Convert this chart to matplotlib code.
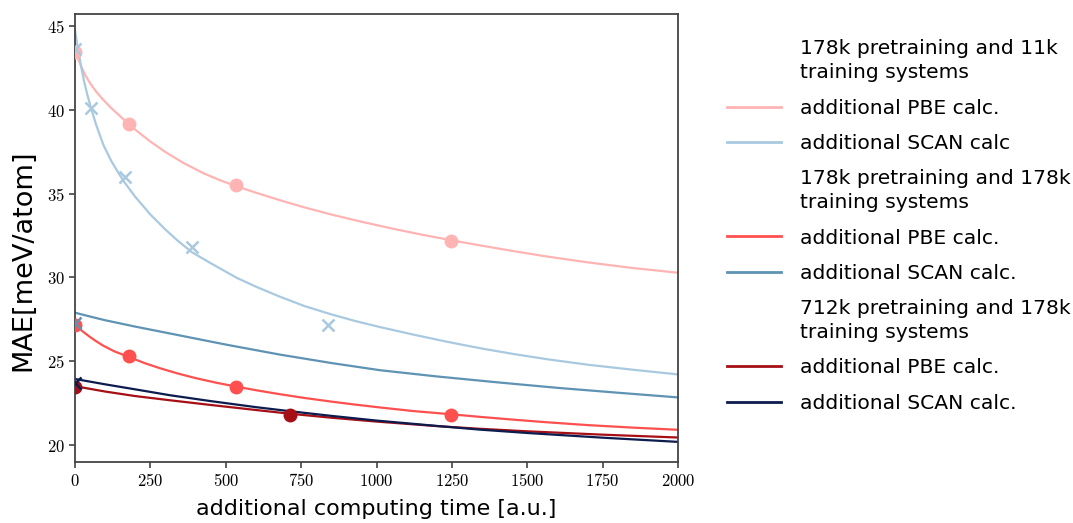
import matplotlib
matplotlib.use("Agg")
import matplotlib.pyplot as plt
from matplotlib.lines import Line2D
from matplotlib.ticker import FuncFormatter

plt.rcParams["mathtext.fontset"] = "cm"

# fitted curves, values
x_pbe_11k = [0, 10, 20, 35, 50, 70, 94, 120, 150, 177, 210, 250, 300, 360, 426, 480, 533, 600,
             680, 760, 850, 950, 1050, 1150, 1244, 1350, 1450, 1564, 1700, 1850, 2000]
y_pbe_11k = [43.6, 43.05, 42.6, 42.02, 41.58, 41.08, 40.58, 40.1, 39.6, 39.15, 38.66, 38.1,
             37.47, 36.82, 36.21, 35.8, 35.45, 35.05, 34.6, 34.18, 33.75, 33.32, 32.92, 32.55,
             32.23, 31.89, 31.58, 31.25, 30.9, 30.56, 30.28]
x_scan_11k = [0, 5, 10, 20, 30, 40, 53, 70, 94, 120, 145, 166, 200, 250, 300, 340, 388, 450,
              536, 600, 680, 760, 850, 930, 1012, 1120, 1233, 1350, 1450, 1564, 1700, 1850, 2000]
y_scan_11k = [44.75, 44.15, 43.6, 42.6, 41.7, 40.95, 40.1, 39.1, 37.9, 36.95, 36.2, 35.62,
              34.8, 33.75, 32.85, 32.2, 31.5, 30.85, 29.98, 29.45, 28.85, 28.3, 27.8, 27.4,
              27.04, 26.6, 26.17, 25.76, 25.45, 25.13, 24.8, 24.5, 24.22]

x_pbe_178k = [0, 15, 30, 50, 70, 94, 130, 177, 230, 280, 340, 400, 470, 533, 600, 680, 760,
              850, 930, 1012, 1120, 1244, 1350, 1450, 1564, 1700, 1850, 2000]
y_pbe_178k = [27.2, 26.95, 26.72, 26.45, 26.2, 25.93, 25.6, 25.27, 24.9, 24.6, 24.28, 24.0,
              23.72, 23.5, 23.28, 23.04, 22.82, 22.6, 22.42, 22.25, 22.04, 21.85, 21.68, 21.53,
              21.37, 21.2, 21.05, 20.92]
x_scan_178k = [0, 50, 100, 200, 315, 500, 680, 850, 1012, 1200, 1400, 1600, 1800, 2000]
y_scan_178k = [27.9, 27.67, 27.45, 27.07, 26.66, 26.0, 25.4, 24.9, 24.47, 24.1, 23.75, 23.42,
               23.13, 22.85]

x_pbe_712k = [0, 100, 200, 315, 450, 600, 712, 850, 1000, 1200, 1343, 1500, 1750, 2000]
y_pbe_712k = [23.52, 23.2, 22.93, 22.68, 22.4, 22.1, 21.88, 21.64, 21.41, 21.14, 20.98, 20.83,
              20.63, 20.46]
x_scan_712k = [0, 100, 200, 315, 450, 600, 712, 850, 1000, 1200, 1343, 1500, 1750, 2000]
y_scan_712k = [23.95, 23.63, 23.33, 22.98, 22.63, 22.27, 22.03, 21.75, 21.47, 21.15, 20.93, 20.73,
               20.45, 20.2]

# measured points
pts_pbe_11k_x = [0, 178, 534, 1246]
pts_pbe_11k_y = [43.45, 39.15, 35.5, 32.2]
pts_scan_11k_x = [0, 53, 166, 388, 840]
pts_scan_11k_y = [43.6, 40.1, 36.0, 31.8, 27.15]
pts_pbe_178k_x = [0, 178, 534, 1246]
pts_pbe_178k_y = [27.15, 25.3, 23.5, 21.8]
pts_scan_178k_x = [0]
pts_scan_178k_y = [27.3]
pts_pbe_712k_x = [0, 712]
pts_pbe_712k_y = [23.45, 21.8]
pts_scan_712k_x = [0]
pts_scan_712k_y = [23.7]

headers = ["178k pretraining and 11k\ntraining systems",
           "178k pretraining and 178k\ntraining systems",
           "712k pretraining and 178k\ntraining systems"]
c_pbe_11k, c_scan_11k = "#ffb4b4", "#a9c9e0"
c_pbe_178k, c_scan_178k = "#ff5050", "#5e93b4"
c_pbe_712k, c_scan_712k = "#a50f15", "#0c1c4e"

fig = plt.figure(figsize=(10.73, 5.23), dpi=100)
ax = fig.add_axes([0.0699, 0.1166, 0.5621, 0.8566])

series = [
    (x_pbe_11k, y_pbe_11k, pts_pbe_11k_x, pts_pbe_11k_y, c_pbe_11k, "o"),
    (x_scan_11k, y_scan_11k, pts_scan_11k_x, pts_scan_11k_y, c_scan_11k, "x"),
    (x_pbe_178k, y_pbe_178k, pts_pbe_178k_x, pts_pbe_178k_y, c_pbe_178k, "o"),
    (x_scan_178k, y_scan_178k, pts_scan_178k_x, pts_scan_178k_y, c_scan_178k, "x"),
    (x_pbe_712k, y_pbe_712k, pts_pbe_712k_x, pts_pbe_712k_y, c_pbe_712k, "o"),
    (x_scan_712k, y_scan_712k, pts_scan_712k_x, pts_scan_712k_y, c_scan_712k, "x"),
]
for xc, yc, xp, yp, col, mk in series:
    ax.plot(xc, yc, color=col, lw=1.6, zorder=2)
    if mk == "o":
        ax.plot(xp, yp, "o", color=col, ms=9, zorder=3)
    else:
        ax.plot(xp, yp, "x", color=col, ms=8, mew=1.8, zorder=3)

ax.set_xlim(0, 2000)
ax.set_ylim(19.0, 45.7)
ax.set_xticks([0, 250, 500, 750, 1000, 1250, 1500, 1750, 2000])
ax.set_yticks([20, 25, 30, 35, 40, 45])
fmt = FuncFormatter(lambda v, p: r"$%d$" % v)
ax.xaxis.set_major_formatter(fmt)
ax.yaxis.set_major_formatter(fmt)
ax.tick_params(labelsize=12, width=1.1, length=4, color="#333333")
for sp in ax.spines.values():
    sp.set_color("#444444")
    sp.set_linewidth(1.3)

ax.set_xlabel("additional computing time [a.u.]", fontsize=16, labelpad=6)
ax.set_ylabel("MAE[meV/atom]", fontsize=19.5)
ax.yaxis.set_label_coords(-0.064, 0.45)

blank = Line2D([], [], color="none")
handles = [blank,
           Line2D([], [], color=c_pbe_11k, lw=2), Line2D([], [], color=c_scan_11k, lw=2),
           blank,
           Line2D([], [], color=c_pbe_178k, lw=2), Line2D([], [], color=c_scan_178k, lw=2),
           blank,
           Line2D([], [], color=c_pbe_712k, lw=2), Line2D([], [], color=c_scan_712k, lw=2)]
labels = [headers[0], "additional PBE calc.", "additional SCAN calc",
          headers[1], "additional PBE calc.", "additional SCAN calc.",
          headers[2], "additional PBE calc.", "additional SCAN calc."]
leg = ax.legend(handles, labels, loc="center left", bbox_to_anchor=(1.05, 0.527),
                frameon=False, fontsize=14.6, handlelength=2.7, handletextpad=0.9,
                labelspacing=0.8)
for t in leg.get_texts():
    t.set_linespacing(1.35)

fig.savefig("out.png", dpi=100)
